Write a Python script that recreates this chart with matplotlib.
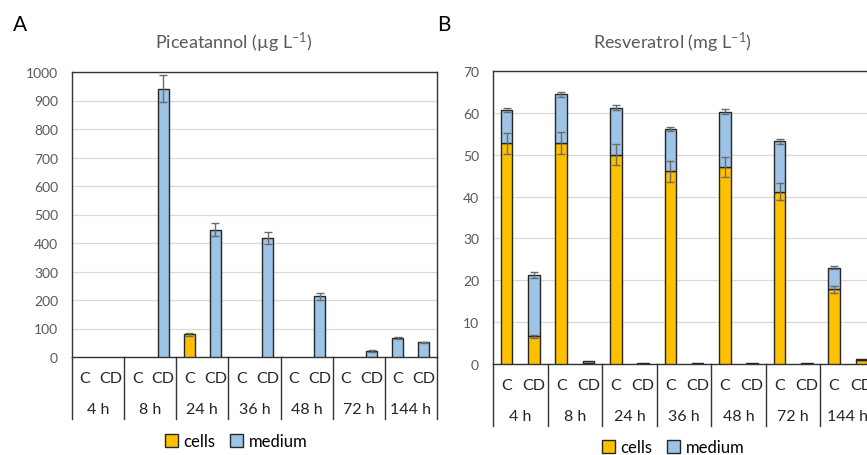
import numpy as np
import matplotlib
matplotlib.use('Agg')
import matplotlib.pyplot as plt
from matplotlib.patches import Patch
from matplotlib.transforms import blended_transform_factory

plt.rcParams['font.family'] = ['Lato', 'DejaVu Sans']
plt.rcParams['mathtext.fontset'] = 'custom'
plt.rcParams['mathtext.rm'] = 'Lato'
plt.rcParams['mathtext.it'] = 'Lato:italic'

# --- data ---
hours = ['4 h', '8 h', '24 h', '36 h', '48 h', '72 h', '144 h']
strains = ['C', 'CD']

# Piceatannol (ug/L), order: 4h C, 4h CD, 8h C, 8h CD, ...
pic_cells = [0, 0, 0, 0, 80, 0, 0, 0, 0, 0, 0, 0, 0, 0]
pic_cells_err = [0, 0, 0, 0, 5, 0, 0, 0, 0, 0, 0, 0, 0, 0]
pic_medium = [0, 0, 0, 942, 0, 446, 0, 419, 0, 213, 0, 21, 66, 51]
pic_medium_err = [0, 0, 0, 47, 0, 23, 0, 21, 0, 12, 0, 2, 3, 2]

# Resveratrol (mg/L)
res_cells = [52.7, 6.6, 52.8, 0.3, 50.0, 0.1, 46.0, 0.1, 47.1, 0.1, 41.2, 0.1, 17.8, 1.0]
res_cells_err = [2.6, 0.3, 2.7, 0, 2.5, 0, 2.4, 0, 2.4, 0, 2.1, 0, 0.75, 0]
res_medium = [8.0, 14.6, 11.7, 0.3, 11.2, 0.1, 10.1, 0.1, 13.2, 0.1, 12.0, 0.1, 5.2, 0.1]
res_medium_err = [0.4, 0.75, 0.6, 0, 0.6, 0, 0.45, 0, 0.6, 0, 0.6, 0, 0.3, 0]

CELLS = '#FFC000'
MEDIUM = '#9DC3E6'
EDGE = '#262626'
GREY = '#595959'


def draw_panel(ax, cells, cells_err, medium, medium_err, ymax, ystep,
               row1_y, row2_y, div_y):
    x = np.arange(len(cells))
    cells = np.array(cells, dtype=float)
    medium = np.array(medium, dtype=float)
    total = cells + medium
    w = 0.42

    # skip empty bars so nothing is drawn on the baseline (as in Excel)
    m1 = cells > 0
    m2 = medium > 0
    ax.bar(x[m1], cells[m1], w, color=CELLS, edgecolor=EDGE, linewidth=1,
           zorder=3)
    ax.bar(x[m2], medium[m2], w, bottom=cells[m2], color=MEDIUM,
           edgecolor=EDGE, linewidth=1, zorder=3)

    # error bars only where there is a bar with an error
    ce = np.array(cells_err, dtype=float)
    me = np.array(medium_err, dtype=float)
    y1 = np.where(m1 & (ce > 0), cells, np.nan)
    y2 = np.where(m2 & (me > 0), total, np.nan)
    for yy, ee in [(y1, ce), (y2, me)]:
        ax.errorbar(x, yy, yerr=ee, fmt='none', ecolor='#6b6b6b',
                    elinewidth=1, capsize=2.6, capthick=1, zorder=4)

    ax.set_xlim(-0.5, len(cells) - 0.5)
    ax.set_ylim(0, ymax)
    ax.set_yticks(np.arange(0, ymax + 1, ystep))
    ax.tick_params(axis='y', length=0, pad=10, labelsize=10, labelcolor=GREY)
    ax.set_xticks([])
    ax.grid(axis='y', color='#D9D9D9', linewidth=0.9, zorder=0)
    ax.set_axisbelow(True)
    for s in ax.spines.values():
        s.set_color('#333333')
        s.set_linewidth(1)

    # two-level category axis
    tr = blended_transform_factory(ax.transData, ax.transAxes)
    for i in range(len(cells)):
        ax.text(i, row1_y, strains[i % 2], transform=tr, ha='center',
                va='center', fontsize=11.5, color='#262626')
    for g, h in enumerate(hours):
        ax.text(2 * g + 0.5, row2_y, h, transform=tr, ha='center',
                va='center', fontsize=11.5, color='#262626')
    for b in np.arange(-0.5, len(cells), 2):
        ax.plot([b, b], [0, div_y], transform=tr, color='#333333',
                linewidth=1, clip_on=False)


fig = plt.figure(figsize=(8.67, 4.56), dpi=100)

axA = fig.add_axes([72 / 867, 1 - 358 / 456, 365 / 867, 285 / 456])
draw_panel(axA, pic_cells, pic_cells_err, pic_medium, pic_medium_err,
           1000, 100, -0.074, -0.182, -0.2175)

axB = fig.add_axes([493 / 867, 1 - 365 / 456, 382 / 867, 293 / 456])
draw_panel(axB, res_cells, res_cells_err, res_medium, res_medium_err,
           70, 10, -0.071, -0.176, -0.21)

fig.text(234 / 867, 1 - 43 / 456, r'Piceatannol (µg L$^{\mathregular{-1}}$)',
         ha='center', va='center', fontsize=13, color=GREY)
fig.text(672 / 867, 1 - 43 / 456, r'Resveratrol (mg L$^{\mathregular{-1}}$)',
         ha='center', va='center', fontsize=13, color=GREY)
fig.text(13 / 867, 1 - 25 / 456, 'A', ha='left', va='center', fontsize=15)
fig.text(437 / 867, 1 - 25 / 456, 'B', ha='left', va='center', fontsize=15)

handles = [Patch(facecolor=CELLS, edgecolor=EDGE, label='cells'),
           Patch(facecolor=MEDIUM, edgecolor=EDGE, label='medium')]
for cx, cy in [(236 / 867, 1 - 442 / 456), (673 / 867, 1 - 448 / 456)]:
    fig.legend(handles=handles, loc='center', bbox_to_anchor=(cx, cy),
               ncol=2, frameon=False, fontsize=12, handlelength=0.8,
               handleheight=0.8, handletextpad=0.3, columnspacing=0.9,
               borderpad=0)

fig.savefig('out.png', dpi=100)
